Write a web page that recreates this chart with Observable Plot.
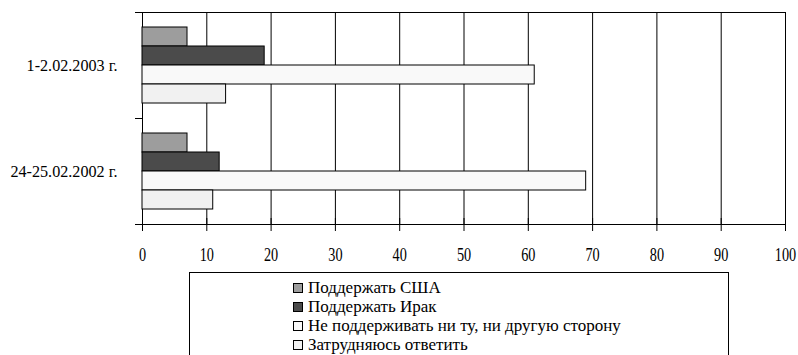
<!DOCTYPE html>
<html><head><meta charset="utf-8">
<script src="https://cdn.jsdelivr.net/npm/d3@7"></script>
<script src="https://cdn.jsdelivr.net/npm/@observablehq/plot@0.6"></script>
<style>
body{margin:0;background:#fff;width:798px;height:355px;overflow:hidden;position:relative;}
#chart{position:absolute;left:0;top:0;}
#legend{position:absolute;left:189px;top:272px;width:540px;height:110px;border:1px solid #000;box-sizing:border-box;padding:5px 0 0 103px;color:#000;}
.item{height:19px;line-height:19px;display:flex;align-items:center;white-space:nowrap;font-family:'Liberation Serif';font-size:17px;}
.sw{width:8px;height:8px;border:1px solid #000;margin-right:5px;flex:none;}
</style></head>
<body>
<div id="chart"></div>
<div id="legend"></div>
<script>
const dates = ["1-2.02.2003 г.", "24-25.02.2002 г."];
const series = ["Поддержать США", "Поддержать Ирак", "Не поддерживать ни ту, ни другую сторону", "Затрудняюсь ответить"];
const values2003 = [7, 19, 61, 13];
const values2002 = [7, 12, 69, 11];
const colors = ["#9d9d9d", "#4b4b4b", "#f9f9f9", "#f1f1f1"];
const xTicks = [0, 10, 20, 30, 40, 50, 60, 70, 80, 90, 100];

const data = [];
series.forEach((s, i) => data.push({date: dates[0], series: s, value: values2003[i]}));
series.forEach((s, i) => data.push({date: dates[1], series: s, value: values2002[i]}));

const plot = Plot.plot({
  width: 798, height: 270,
  marginLeft: 142, marginRight: 13, marginTop: 12, marginBottom: 46,
  style: {fontFamily: "Liberation Serif", fontSize: "17px", color: "#000", background: "transparent", overflow: "visible"},
  x: {domain: [0, 100], ticks: xTicks, tickSize: 7, tickPadding: 16, label: null},
  y: {domain: series, paddingInner: 0, paddingOuter: 0.72, axis: null},
  fy: {domain: dates, padding: 0, axis: "left", tickSize: 0, tickPadding: 25, label: null},
  color: {domain: series, range: colors},
  marks: [
    Plot.gridX(xTicks, {stroke: "#000", strokeOpacity: 1, strokeWidth: 1}),
    Plot.frame({anchor: "top", facetAnchor: "top", stroke: "#000"}),
    Plot.frame({anchor: "bottom", facetAnchor: "bottom", stroke: "#000"}),
    Plot.barX(data, {x: "value", y: "series", fy: "date", fill: "series", stroke: "#000", strokeWidth: 1})
  ]
});
document.getElementById("chart").appendChild(plot);

const svg = d3.select(plot);
const xs = plot.scale("x"), fys = plot.scale("fy");
const x0 = xs.apply(0);
const bounds = [];
dates.forEach(d => { const y0 = fys.apply(d); bounds.push(y0, y0 + fys.bandwidth); });
const uniq = [...new Set(bounds.map(v => Math.round(v * 10) / 10))];
const g = svg.append("g").attr("stroke", "#000").attr("stroke-width", 1);
uniq.forEach(y => g.append("line").attr("x1", x0 - 7).attr("x2", x0).attr("y1", y + 0.5).attr("y2", y + 0.5));
const yb = Math.max(...bounds);
xTicks.forEach(t => g.append("line").attr("x1", xs.apply(t) + 0.5).attr("x2", xs.apply(t) + 0.5).attr("y1", yb - 6).attr("y2", yb));

function condense(sel, s, size) {
  sel.each(function() {
    const t = d3.select(this);
    const tr = t.attr("transform") || "";
    t.attr("transform", `${tr} scale(${s},1)`).style("font-size", size);
  });
}
condense(svg.selectAll('g[aria-label="x-axis tick label"] text'), 0.75, "19px");
condense(svg.selectAll('g[aria-label="fy-axis tick label"] text'), 0.95, "17px");

const legend = d3.select("#legend");
series.forEach((s, i) => {
  const it = legend.append("div").attr("class", "item");
  it.append("div").attr("class", "sw").style("background", colors[i]);
  it.append("span").text(s);
});
</script>
</body></html>
